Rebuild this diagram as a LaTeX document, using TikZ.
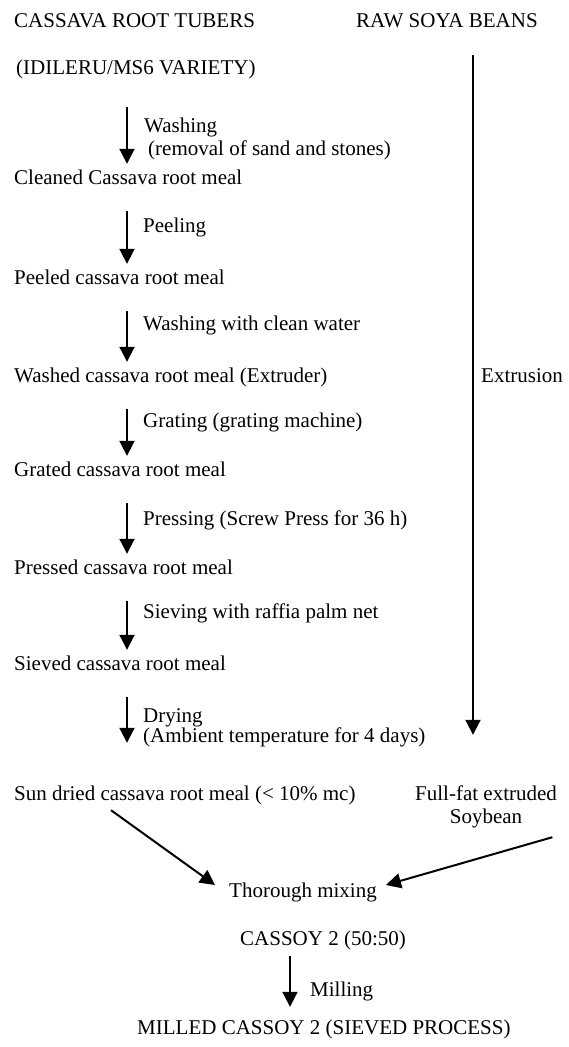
\documentclass[tikz,border=0pt]{standalone}
\usepackage{fontspec}
\setmainfont{Liberation Serif}
\usetikzlibrary{
  calc,
  arrows.meta}
\tikzset{
  %% meal : a product of the process (and the raw materials)
  meal/.style={
    anchor=base west,
    inner sep=0pt,
    text height=15pt,
    text depth=5pt
  },
  %% oplabel : the operation written beside an arrow
  oplabel/.style={
    anchor=base west,
    inner sep=0pt
  },
  %% flow : arrow from one product to the next
  flow/.style={
    line width=2pt,
    -{Triangle[width=15pt, length=15pt]},
    shorten <=22pt,
    shorten >=5pt
  }
}

\begin{document}
\begin{tikzpicture}
  [x=1pt,
  y=-1pt]
  \fontsize{21}{23}\selectfont
  \useasboundingbox (0, 0) rectangle (569, 1047);

  %% Axes of the vertical arrows
  \coordinate (spine) at (127, 0);
  \coordinate (soyaxis) at (473, 0);
  \coordinate (millaxis) at (290, 0);

  %% Cassava column
  \node (tubers) [meal] at (14, 27) {CASSAVA ROOT TUBERS};
  \node (variety) [meal] at (16, 74) {(IDILERU/MS6 VARIETY)};
  \node (cleaned) [meal] at (14, 184) {Cleaned Cassava root meal};
  \node (peeled) [meal] at (14, 284) {Peeled cassava root meal};
  \node (washed) [meal] at (14, 382) {Washed cassava root meal (Extruder)};
  \node (grated) [meal] at (14, 476) {Grated cassava root meal};
  \node (pressed) [meal] at (14, 574) {Pressed cassava root meal};
  \node (sieved) [meal] at (14, 670) {Sieved cassava root meal};
  \node (sundried) [meal] at (14, 800) {Sun dried cassava root meal (< 10\% mc)};

  %% Operations
  \node (opwash) [oplabel] at (144, 132) {Washing};
  \node (opwashb) [oplabel] at (148, 155) {(removal of sand and stones)};
  \node (oppeel) [oplabel] at (143, 232) {Peeling};
  \node (oprinse) [oplabel] at (143, 330) {Washing with clean water};
  \node (opgrate) [oplabel] at (143, 427) {Grating (grating machine)};
  \node (oppress) [oplabel] at (143, 525) {Pressing (Screw Press for 36 h)};
  \node (opsieve) [oplabel] at (143, 618) {Sieving with raffia palm net};
  \node (opdry) [oplabel] at (143, 722) {Drying};
  \node (opdryb) [oplabel] at (143, 742) {(Ambient temperature for 4 days)};

  \draw [flow, shorten <=28pt] (variety.south -| spine) -- (cleaned.north -| spine);
  \draw [flow] (cleaned.south -| spine) -- (peeled.north -| spine);
  \draw [flow] (peeled.south -| spine) -- (washed.north -| spine);
  \draw [flow] (washed.south -| spine) -- (grated.north -| spine);
  \draw [flow] (grated.south -| spine) -- (pressed.north -| spine);
  \draw [flow] (pressed.south -| spine) -- (sieved.north -| spine);
  \draw [flow, shorten >=42pt] (sieved.south -| spine) -- (sundried.north -| spine);

  %% Soya column
  \node (soya) [meal] at (356, 27) {RAW SOYA BEANS};
  \node (extrusion) [oplabel] at (481, 382) {Extrusion};
  \node (fullfat) [meal] at (415, 800) {Full-fat extruded};
  \node (soybean) [meal, anchor=base] at (486, 823) {Soybean};
  \draw [flow, shorten <=23pt, shorten >=50pt]
  (soya.south -| soyaxis) -- (fullfat.north -| soyaxis);

  %% Mixing and milling
  \node (mixing) [meal] at (229, 897) {Thorough mixing};
  \node (cassoy) [meal] at (240, 945) {CASSOY 2 (50:50)};
  \node (opmill) [oplabel] at (310, 996) {Milling};
  \node (milled) [meal] at (137, 1034) {MILLED CASSOY 2 (SIEVED PROCESS)};

  \draw [flow, shorten <=0pt, shorten >=0pt]
  ($(sundried.south west) + (97, 5)$) -- ($(mixing.west) + (-14, -7)$);
  \draw [flow, shorten <=0pt, shorten >=0pt]
  ($(soybean.south east) + (30, 9)$) -- ($(mixing.east) + (9, -7)$);
  \draw [flow, shorten <=6pt, shorten >=12pt]
  (cassoy.south -| millaxis) -- (milled.north -| millaxis);

\end{tikzpicture}
\end{document}
